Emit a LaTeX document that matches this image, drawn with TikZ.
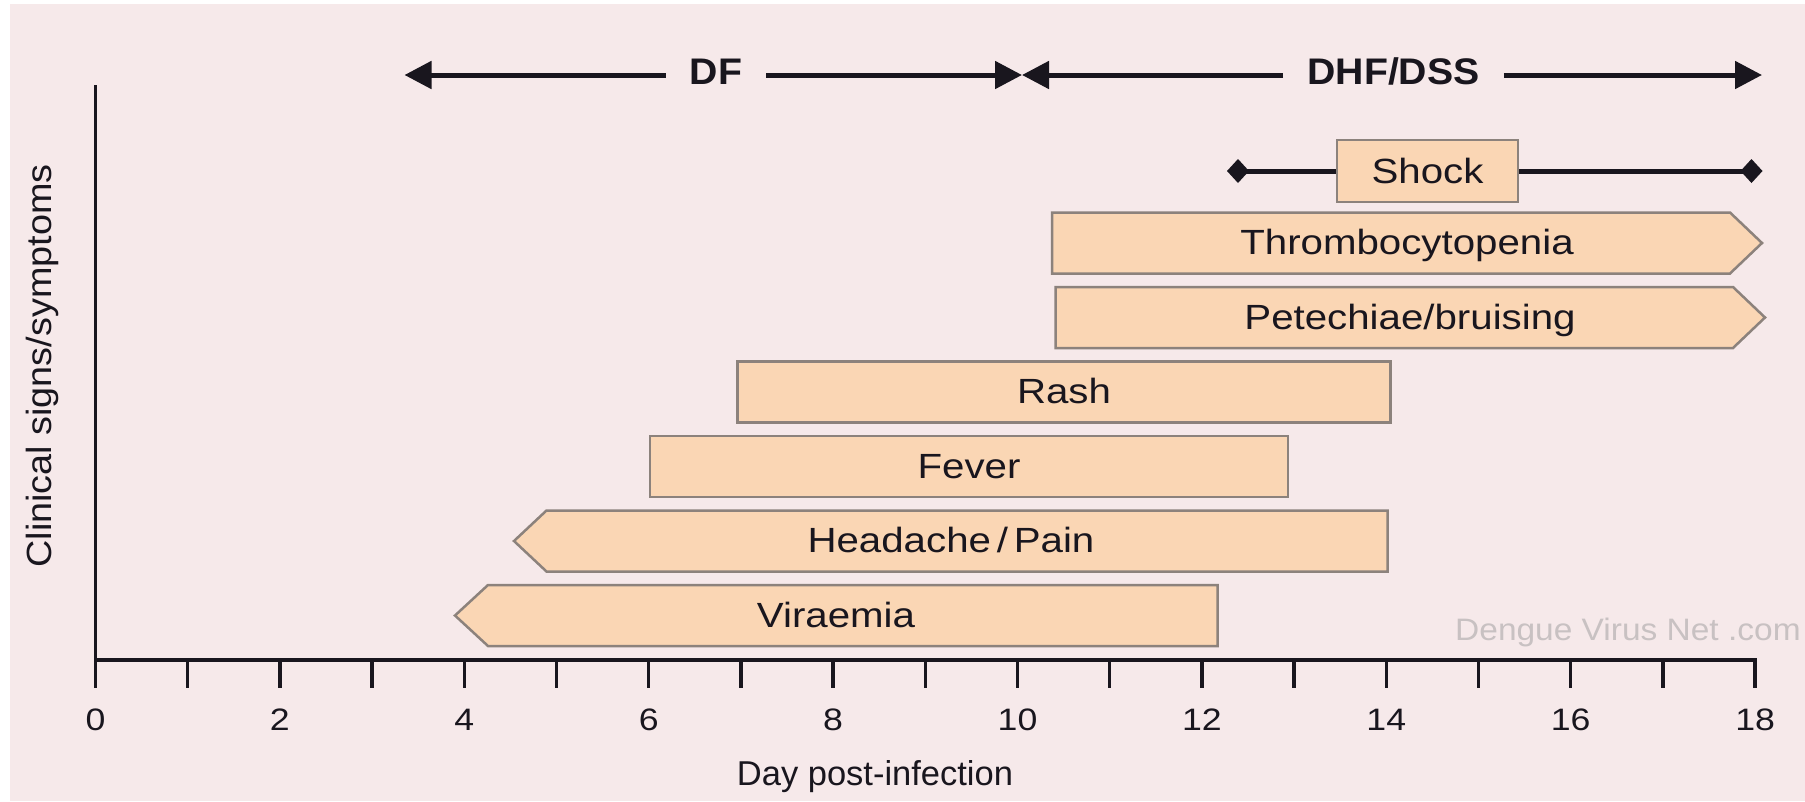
\documentclass[tikz,border=0pt]{standalone}
\usepackage{fontspec}
\setmainfont{Liberation Sans}
\newfontfamily\lblfont{Liberation Sans}[FakeStretch=1.15]
\newfontfamily\ylfont{Liberation Sans}[FakeStretch=1.08]
\newfontfamily\bldfont{Liberation Sans}[FakeStretch=1.06]
\usetikzlibrary{arrows.meta}
\definecolor{bgpink}{RGB}{246,233,234}
\definecolor{peach}{RGB}{250,214,180}
\definecolor{barline}{RGB}{140,130,124}
\definecolor{ink}{RGB}{25,22,30}
\definecolor{wm}{RGB}{200,193,194}
\begin{document}
\begin{tikzpicture}[x=1pt,y=-1pt,
  bar/.style={fill=peach,draw=barline,line width=2.5pt,line join=miter},
  lbl/.style={font=\lblfont\fontsize{35}{40}\selectfont,text=ink,inner sep=0pt,
    text height=25pt,text depth=0pt,anchor=center},
  num/.style={font=\lblfont\fontsize{31}{36}\selectfont,text=ink,inner sep=0pt,anchor=base},
  axisline/.style={draw=ink,line width=3.5pt},
  phase/.style={font=\bldfont\bfseries\fontsize{37}{42}\selectfont,text=ink,
    inner xsep=24pt,inner ysep=0pt,text height=26.5pt,text depth=7pt},
  phasearrow/.style={draw=ink,line width=5pt,-{Triangle[length=27pt,width=27pt]}},
  shockline/.style={draw=ink,line width=5pt,-{Diamond[length=22pt,width=24pt]}}]

% background
\useasboundingbox (0,0) rectangle (1805,801);
\fill[white] (0,0) rectangle (1805,801);
\fill[bgpink] (10,4) rectangle (1805,801);

% bars
\draw[bar] (1052,212.5) -- (1730,212.5) -- (1762,243) -- (1730,273.5) -- (1052,273.5) -- cycle;
\draw[bar] (1055.5,287) -- (1733,287) -- (1765,317.5) -- (1733,348) -- (1055.5,348) -- cycle;
\draw[bar] (737.5,361.5) rectangle (1390.5,422.5);
\draw[bar] (650,436) rectangle (1288,497);
\draw[bar] (546.5,510.5) -- (1387.5,510.5) -- (1387.5,571.5) -- (546.5,571.5) -- (514,541) -- cycle;
\draw[bar] (488,585) -- (1217.5,585) -- (1217.5,646) -- (488,646) -- (455,615.5) -- cycle;

\node[lbl] (thr) at (1407,242) {Thrombocytopenia};
\node[lbl] (pet) at (1410,316.5) {Petechiae/bruising};
\node[lbl] (rash) at (1064,391) {Rash};
\node[lbl] (fev) at (969,465.5) {Fever};
\node[lbl] (head) at (951,540) {Headache\,/\,Pain};
\node[lbl] (vir) at (836,614.5) {Viraemia};

% shock
\node[lbl,fill=peach,draw=barline,line width=2.5pt,minimum width=181pt,minimum height=62pt]
  (shock) at (1427.5,171) {Shock};
\coordinate (shL) at (1227,171);
\coordinate (shR) at (1762.5,171);
\draw[shockline] (shock.west) -- (shL);
\draw[shockline] (shock.east) -- (shR);

% phases
\node[phase] (df) at (716,75) {DF};
\node[phase] (dhf) at (1393.5,75) {DHF/DSS};
\coordinate (dfL) at (404.5,75);
\coordinate (mid) at (1022,75);
\coordinate (dhfR) at (1762,75);
\draw[phasearrow] (df.west) -- (dfL);
\draw[phasearrow] (df.east) -- (mid);
\draw[phasearrow] (dhf.west) -- (mid);
\draw[phasearrow] (dhf.east) -- (dhfR);

% axes
\coordinate (ytop) at (95.5,85);
\coordinate (origin) at (95.5,660);
\coordinate (xend) at (1757,660);
\draw[axisline] (ytop) -- (origin) -- (xend);
\foreach \d in {0,...,18} {
  \draw[axisline] ({95.5+92.2*\d},660) -- ++(0,28);
}
\foreach \d in {0,2,...,18} {
  \node[num] (n\d) at ({95.5+92.2*\d},730) {\d};
}
\node[font=\fontsize{34.5}{40}\selectfont,text=ink,inner sep=0pt,anchor=base]
  (xlab) at (875,785) {Day post-infection};
\node[font=\ylfont\fontsize{35}{40}\selectfont,text=ink,inner sep=0pt,rotate=90,
  text height=25pt,text depth=0pt,anchor=center] (ylab) at (39,366) {Clinical signs/symptoms};

% watermark
\node[font=\ylfont\fontsize{31}{36}\selectfont,text=wm,inner sep=0pt,anchor=base west]
  (wmark) at (1455,640) {Dengue Virus Net .com};
\end{tikzpicture}
\end{document}
